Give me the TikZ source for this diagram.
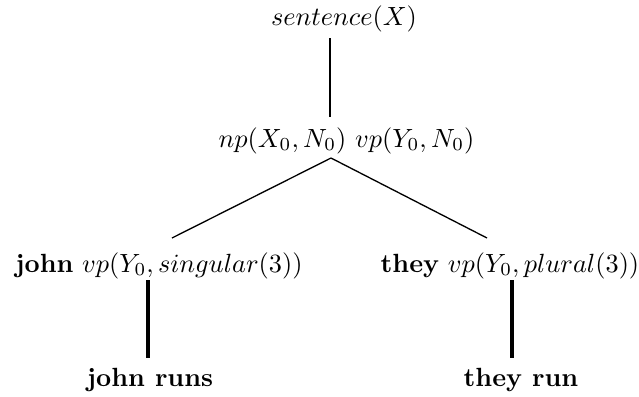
\documentclass[tikz,border=0pt]{standalone}
\begin{document}
\begin{tikzpicture}[x=0.38pt,y=-0.38pt,
  lbl/.style={anchor=base,inner sep=0pt},
  thickedge/.style={line width=1.5pt},
  midedge/.style={line width=1pt},
  thinedge/.style={line width=0.5pt}]
\useasboundingbox (0,0) rectangle (639,397);
\node[lbl] (top) at (344,25) {$sentence(X)$};
\node[lbl] (mid) at (346.5,147) {$np(X_0,N_0)\ vp(Y_0,N_0)$};
\node[lbl] (left) at (159,272) {\textbf{john} $vp(Y_0,singular(3))$};
\node[lbl] (right) at (510,272) {\textbf{they} $vp(Y_0,plural(3))$};
\node[lbl] (jr) at (150,386) {\textbf{john runs}};
\node[lbl] (tr) at (521,386) {\textbf{they run}};
\coordinate (t1) at (330,38);
\coordinate (t2) at (330,117);
\coordinate (apex) at (331,158);
\coordinate (l1) at (172,238);
\coordinate (r1) at (487,238);
\coordinate (l2) at (148,280);
\coordinate (l3) at (148,358);
\coordinate (r2) at (512,280);
\coordinate (r3) at (512,358);
\draw[midedge] (t1) -- (t2);
\draw[thinedge] (apex) -- (l1);
\draw[thinedge] (apex) -- (r1);
\draw[thickedge] (l2) -- (l3);
\draw[thickedge] (r2) -- (r3);
\end{tikzpicture}
\end{document}
